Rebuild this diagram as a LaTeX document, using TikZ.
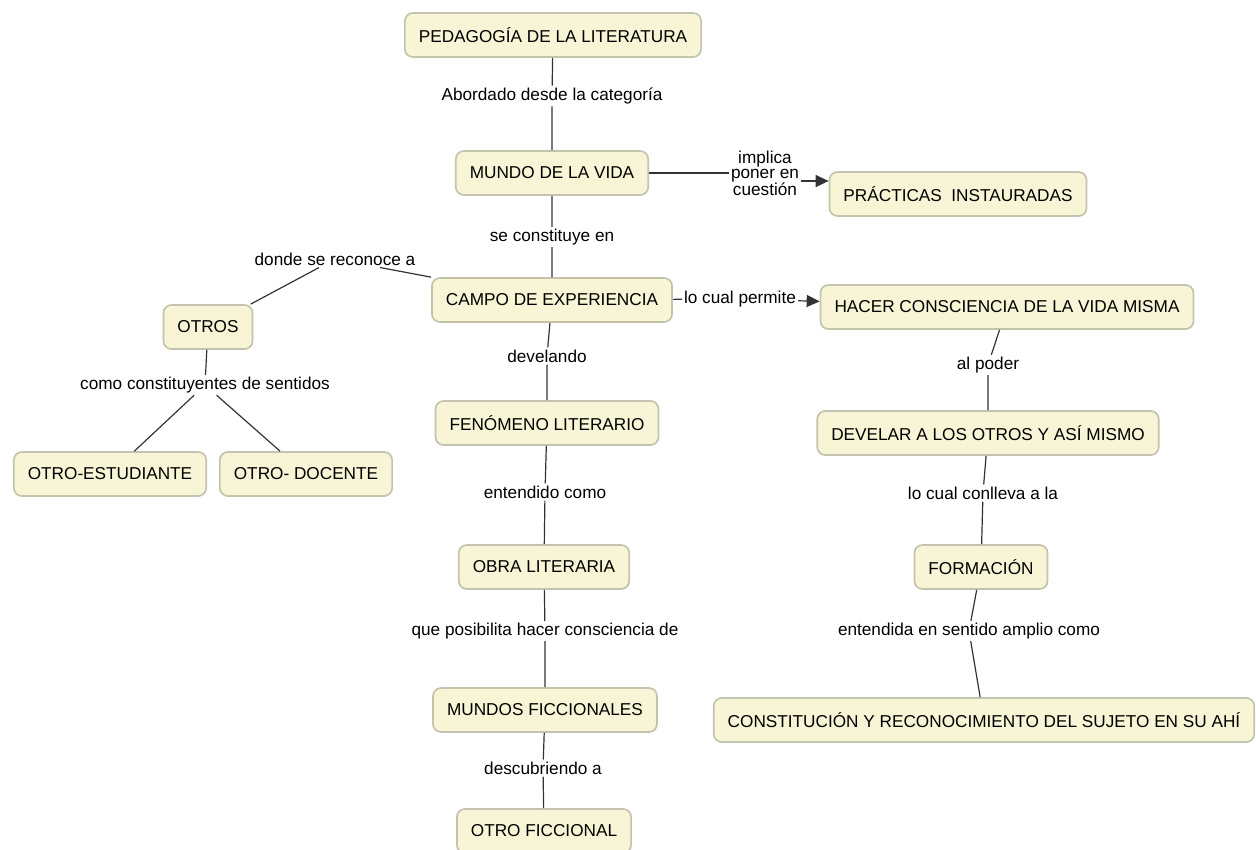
\documentclass[tikz,border=0pt]{standalone}
\usepackage{fontspec}
\setmainfont{Liberation Sans}
\usepackage{xcolor}
\usetikzlibrary{arrows.meta}

\definecolor{boxfill}{HTML}{F7F5D5}
\definecolor{boxline}{HTML}{C4C4AE}

\begin{document}
\begin{tikzpicture}[x=1pt,y=-1pt,
  concept/.style={draw=boxline,line width=1.7pt,fill=boxfill,rounded corners=8pt,
    minimum height=44pt,inner xsep=14pt,font=\fontsize{17.2}{19}\selectfont},
  linkword/.style={fill=white,inner sep=2pt,align=center,font=\fontsize{17.2}{15}\selectfont},
  link/.style={draw=black!80,line width=1.2pt},
  tolink/.style={link,-{Triangle[length=13pt,width=12pt]}}]
  \useasboundingbox (0,0) rectangle (1256,849);
  % centre column
  \node[concept] (pedagogia) at (553,35) {PEDAGOGÍA DE LA LITERATURA};
  \node[linkword] (abordado) at (552,96) {Abordado desde la categoría};
  \node[concept] (mundo) at (552,173) {MUNDO DE LA VIDA};
  \node[linkword] (constituye) at (552,237) {se constituye en};
  \node[concept] (campo) at (552,300) {CAMPO DE EXPERIENCIA};
  \node[linkword] (develando) at (547,356) {develando};
  \node[concept] (fenomeno) at (547,423) {FENÓMENO LITERARIO};
  \node[linkword] (entendido) at (545,492) {entendido como};
  \node[concept] (obra) at (544,567) {OBRA LITERARIA};
  \node[linkword] (posibilita) at (545,631) {que posibilita hacer consciencia de};
  \node[concept] (mundos) at (545,710) {MUNDOS FICCIONALES};
  \node[linkword] (descubriendo) at (543,768) {descubriendo a};
  \node[concept] (ficcional) at (544,831) {OTRO FICCIONAL};
  % right branch
  \node[linkword] (implica) at (765,173) {implica\\poner en\\cuestión};
  \node[concept] (practicas) at (958,194) {PRÁCTICAS\ \ INSTAURADAS};
  \node[linkword] (permite) at (740,299) {lo cual permite};
  \node[concept] (hacer) at (1007,307) {HACER CONSCIENCIA DE LA VIDA MISMA};
  \node[linkword] (alpoder) at (988,365) {al poder};
  \node[concept] (develar) at (988,433) {DEVELAR A LOS OTROS Y ASÍ MISMO};
  \node[linkword] (conlleva) at (983,493) {lo cual conlleva a la};
  \node[concept] (formacion) at (981,567) {FORMACIÓN};
  \node[linkword] (amplio) at (969,631) {entendida en sentido amplio como};
  \node[concept] (sujeto) at (984,720) {CONSTITUCIÓN Y RECONOCIMIENTO DEL SUJETO EN SU AHÍ};
  % left branch
  \node[linkword] (reconoce) at (335,259) {donde se reconoce a};
  \node[concept] (otros) at (208,327) {OTROS};
  \node[linkword] (sentidos) at (205,385) {como constituyentes de sentidos};
  \node[concept] (estudiante) at (110,474) {OTRO-ESTUDIANTE};
  \node[concept] (docente) at (306,474) {OTRO- DOCENTE};
  % connectors
  \draw[link] (pedagogia) -- (abordado) -- (mundo) -- (constituye) -- (campo)
    -- (develando) -- (fenomeno) -- (entendido) -- (obra) -- (posibilita)
    -- (mundos) -- (descubriendo) -- (ficcional);
  \draw[link] (mundo) -- (implica.west |- mundo);
  \draw[tolink] ([yshift=-8pt]implica.east) -- ([yshift=-8pt]implica.east -| practicas.west);
  \draw[link] (campo) -- (permite);
  \draw[tolink] (permite) -- (hacer);
  \draw[link] (hacer) -- (alpoder) -- (develar) -- (conlleva) -- (formacion)
    -- (amplio) -- (sujeto);
  \draw[link] (campo.north west) -- (reconoce) -- (otros) -- (sentidos);
  \draw[link] (sentidos) -- (estudiante);
  \draw[link] (sentidos) -- (docente);
\end{tikzpicture}
\end{document}
